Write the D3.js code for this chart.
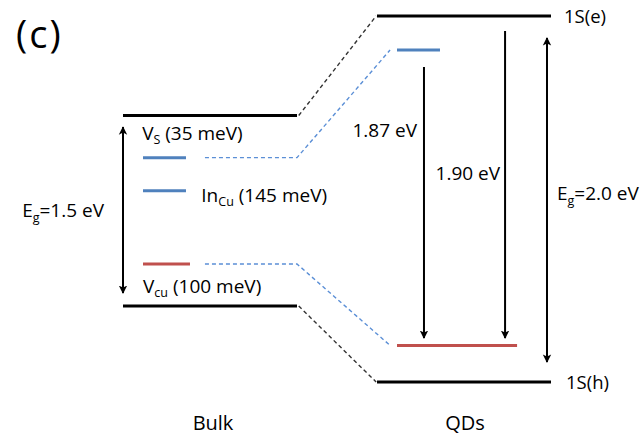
<!DOCTYPE html>
<html>
<head>
<meta charset="utf-8">
<script src="https://cdn.jsdelivr.net/npm/d3@7"></script>
<style>
  html, body { margin: 0; padding: 0; background: #fff; }
  svg text { font-family: "Open Sans", "DejaVu Sans", sans-serif; fill: #000; }
</style>
</head>
<body>
<svg id="chart" width="644" height="436"></svg>
<script>
// Schematic energy axis (eV): QD 1S(h) sits at 0, 1S(e) at 2.0
const columns = ["Bulk", "QDs"];

// band edges per column
const bandNames = ["CB", "VB"];
const bulkBands = [1.456, 0.415];
const qdBands = [2.0, 0.0];
const qdBandLabels = ["1S(e)", "1S(h)"];

// defect levels in the bulk gap
const defectNames = ["V_S", "In_Cu", "V_cu"];
const defectEnergy = [1.226, 1.045, 0.645];
const defectMeV = ["35 meV", "145 meV", "100 meV"];
const defectKind = ["donor", "donor", "acceptor"];

// defect-derived levels inside the QD gap
const qdDefectKind = ["donor", "acceptor"];
const qdDefectEnergy = [1.814, 0.2];

// correlations bulk defect -> QD defect
const linkFrom = ["V_S", "V_cu"];
const linkTo = ["donor", "acceptor"];

// transitions drawn as arrows
const transitionLabels = ["1.87 eV", "1.90 eV", "2.0 eV"];
const transitionTop = [1.721, 1.918, 1.88];
const transitionBottom = [0.24, 0.24, 0.109];
const transitionPos = [0.27, 0.736, 0.977];
const transitionTwoWay = [false, false, true];

const bulkGapLabel = "1.5 eV";
const bulkGapTop = 1.393, bulkGapBottom = 0.486;

const colors = { donor: "#4f81bd", acceptor: "#c0504d", band: "#000" };

const svg = d3.select("#chart");

const y = d3.scaleLinear().domain([0, 2.0]).range([382, 16]);
const col = d3.scaleBand().domain(columns).range([123, 551]).paddingInner(80 / 254);
const u = d3.scaleLinear().domain([0, 1]).range([0, col.bandwidth()]);
const X = (c, f) => col(c) + u(f);

// arrow head markers
const defs = svg.append("defs");
function marker(id, orient) {
  defs.append("marker")
    .attr("id", id).attr("viewBox", "0 0 10 10")
    .attr("refX", 9).attr("refY", 5)
    .attr("markerWidth", 4.2).attr("markerHeight", 5.5)
    .attr("markerUnits", "strokeWidth")
    .attr("orient", orient)
    .append("path").attr("d", "M0,0 L10,5 L0,10 L2.5,5 Z").attr("fill", "#000");
}
marker("head", "auto");
marker("head2", "auto-start-reverse");

// ----- dashed connectors -----
const bandLinks = bandNames.map((n, i) => ({ a: bulkBands[i], b: qdBands[i] }));
svg.selectAll("line.bandlink").data(bandLinks).join("line")
  .attr("class", "bandlink")
  .attr("x1", X("Bulk", 1.01)).attr("y1", d => y(d.a))
  .attr("x2", X("QDs", -0.005)).attr("y2", d => y(d.b))
  .attr("stroke", "#333").attr("stroke-width", 1.4).attr("stroke-dasharray", "4,3");

const defectLinks = linkFrom.map((n, i) => {
  const e0 = defectEnergy[defectNames.indexOf(n)];
  const e1 = qdDefectEnergy[qdDefectKind.indexOf(linkTo[i])];
  return [[X("Bulk", 0.471), y(e0)], [X("Bulk", 1.0), y(e0)], [X("QDs", 0.075), y(e1)]];
});
svg.selectAll("path.deflink").data(defectLinks).join("path")
  .attr("class", "deflink")
  .attr("d", d3.line())
  .attr("fill", "none")
  .attr("stroke", "#5b8fd6").attr("stroke-width", 1.4).attr("stroke-dasharray", "4,3");

// ----- band edges -----
svg.selectAll("line.bulkband").data(bulkBands).join("line")
  .attr("x1", X("Bulk", 0)).attr("x2", X("Bulk", 1))
  .attr("y1", d => y(d)).attr("y2", d => y(d))
  .attr("stroke", colors.band).attr("stroke-width", 3);

svg.selectAll("line.qdband").data(qdBands).join("line")
  .attr("x1", X("QDs", 0)).attr("x2", X("QDs", 1))
  .attr("y1", d => y(d)).attr("y2", d => y(d))
  .attr("stroke", colors.band).attr("stroke-width", 3);

svg.selectAll("text.qdband").data(qdBandLabels).join("text")
  .attr("x", (d, i) => X("QDs", 1) + 13 + i * 2)
  .attr("y", (d, i) => y(qdBands[i]) + 7)
  .attr("font-size", 18.5)
  .text(d => d);

// ----- defect levels -----
const defectEnd = { donor: 0.362, acceptor: 0.385 };
svg.selectAll("line.defect").data(defectEnergy).join("line")
  .attr("x1", X("Bulk", 0.115)).attr("x2", (d, i) => X("Bulk", defectEnd[defectKind[i]]))
  .attr("y1", d => y(d)).attr("y2", d => y(d))
  .attr("stroke", (d, i) => colors[defectKind[i]]).attr("stroke-width", 3);

const qdDefectEnd = { donor: 0.362, acceptor: 0.805 };
svg.selectAll("line.qddefect").data(qdDefectEnergy).join("line")
  .attr("x1", X("QDs", 0.115)).attr("x2", (d, i) => X("QDs", qdDefectEnd[qdDefectKind[i]]))
  .attr("y1", d => y(d)).attr("y2", d => y(d))
  .attr("stroke", (d, i) => colors[qdDefectKind[i]]).attr("stroke-width", 3);

// defect labels: main letters + subscript + energy in brackets
const defectLabelPos = [
  { f: 0.11, dy: -17.5 },
  { f: 0.45, dy: 11.5 },
  { f: 0.115, dy: 29 }
];
defectNames.forEach((n, i) => {
  const [main, sub] = n.split("_");
  const t = svg.append("text")
    .attr("x", X("Bulk", defectLabelPos[i].f))
    .attr("y", y(defectEnergy[i]) + defectLabelPos[i].dy)
    .attr("font-size", 19);
  t.append("tspan").text(main);
  t.append("tspan").attr("font-size", 12.5).attr("dy", 4).text(sub);
  t.append("tspan").attr("dy", -4).text(" (" + defectMeV[i] + ")");
});

// ----- transitions -----
svg.selectAll("line.trans").data(transitionTop).join("line")
  .attr("x1", (d, i) => X("QDs", transitionPos[i])).attr("x2", (d, i) => X("QDs", transitionPos[i]))
  .attr("y1", d => y(d)).attr("y2", (d, i) => y(transitionBottom[i]))
  .attr("stroke", "#000").attr("stroke-width", 2)
  .attr("marker-end", "url(#head)")
  .attr("marker-start", (d, i) => transitionTwoWay[i] ? "url(#head2)" : null);

// plain energy labels on the left of the first two arrows
[0, 1].forEach(i => {
  svg.append("text")
    .attr("x", X("QDs", transitionPos[i]) - (i === 0 ? 7 : 5))
    .attr("y", i === 0 ? 137 : 180)
    .attr("text-anchor", "end")
    .attr("font-size", 19)
    .text(transitionLabels[i]);
});

function gapLabel(x, yy, value, anchor) {
  const t = svg.append("text").attr("x", x).attr("y", yy)
    .attr("font-size", 19).attr("text-anchor", anchor);
  t.append("tspan").text("E");
  t.append("tspan").attr("font-size", 12.5).attr("dy", 5).text("g");
  t.append("tspan").attr("dy", -5).text("=" + value);
}
gapLabel(X("QDs", transitionPos[2]) + 10, 200, transitionLabels[2], "start");

// bulk gap double arrow
svg.append("line")
  .attr("x1", X("Bulk", 0)).attr("x2", X("Bulk", 0))
  .attr("y1", y(bulkGapTop)).attr("y2", y(bulkGapBottom))
  .attr("stroke", "#000").attr("stroke-width", 2)
  .attr("marker-end", "url(#head)").attr("marker-start", "url(#head2)");
gapLabel(X("Bulk", 0) - 19, 217, bulkGapLabel, "end");

// ----- column titles and panel tag -----
svg.selectAll("text.col").data(columns).join("text")
  .attr("x", d => col(d) + col.bandwidth() / 2 + (d === "Bulk" ? 3 : 1))
  .attr("y", 430)
  .attr("text-anchor", "middle")
  .attr("font-size", 20)
  .text(d => d);

svg.append("text")
  .attr("x", 16).attr("y", 48)
  .attr("font-size", 38).attr("letter-spacing", 2)
  .text("(c)");
</script>
</body>
</html>
